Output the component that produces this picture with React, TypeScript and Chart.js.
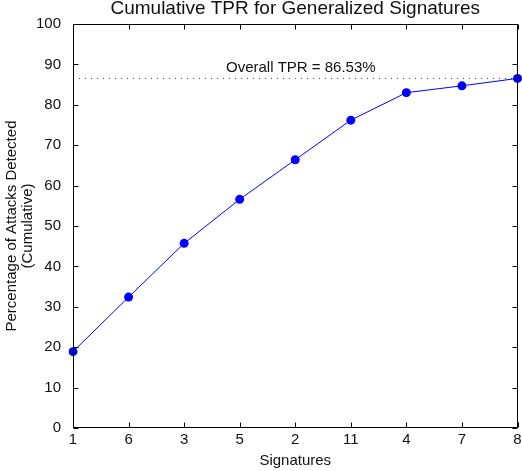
import React, { useEffect, useRef } from "react";
import { Chart, registerables } from "chart.js";

Chart.register(...registerables);

const signatures = ["1", "6", "3", "5", "2", "11", "4", "7", "8"];
const cumulativeTPR = [18.9, 32.4, 45.7, 56.6, 66.4, 76.2, 83.0, 84.7, 86.53];
const overallTPR = 86.53;
const overallLine = signatures.map(() => overallTPR);
const yTicks = [0, 10, 20, 30, 40, 50, 60, 70, 80, 90, 100];
const annotationText = "Overall TPR = 86.53%";
const annotationIndex = 4.1;

const FONT = "'Liberation Sans', Arial, Helvetica, sans-serif";

const boxPlugin = {
  id: "matlabBox",
  afterDatasetsDraw(chart: any) {
    const { ctx, chartArea, scales } = chart;
    const { left, right, top, bottom } = chartArea;
    const tl = 5;
    ctx.save();
    ctx.strokeStyle = "#000";
    ctx.lineWidth = 1;
    ctx.beginPath();
    const L = Math.round(left) + 0.5;
    const R = Math.round(right) - 0.5;
    const T = Math.round(top) + 0.5;
    const B = Math.round(bottom) - 0.5;
    ctx.rect(L, T, R - L, B - T);
    const xs = scales.x;
    for (let i = 0; i < xs.ticks.length; i++) {
      const px = Math.round(xs.getPixelForTick(i)) + 0.5;
      ctx.moveTo(px, B);
      ctx.lineTo(px, B - tl);
      ctx.moveTo(px, T);
      ctx.lineTo(px, T + tl);
    }
    const ys = scales.y;
    for (let i = 0; i < ys.ticks.length; i++) {
      const py = Math.round(ys.getPixelForTick(i)) + 0.5;
      ctx.moveTo(L, py);
      ctx.lineTo(L + tl, py);
      ctx.moveTo(R, py);
      ctx.lineTo(R - tl, py);
    }
    ctx.stroke();
    // annotation
    ctx.fillStyle = "#111";
    ctx.font = `15px ${FONT}`;
    ctx.textAlign = "center";
    ctx.textBaseline = "alphabetic";
    ctx.fillText(
      annotationText,
      xs.getPixelForValue(annotationIndex),
      ys.getPixelForValue(overallTPR) - 6
    );
    ctx.restore();
  },
};

export default function App() {
  const ref = useRef<HTMLCanvasElement>(null);
  useEffect(() => {
    if (!ref.current) return;
    Chart.defaults.font.family = FONT;
    Chart.defaults.color = "#111";
    const chart = new Chart(ref.current, {
      type: "line",
      data: {
        labels: signatures,
        datasets: [
          {
            label: "Cumulative TPR",
            data: cumulativeTPR,
            borderColor: "#0000ff",
            backgroundColor: "#0000ff",
            borderWidth: 1,
            pointRadius: 4.5,
            pointBorderWidth: 0,
            pointBackgroundColor: "#0000ff",
            tension: 0,
            order: 1,
          },
          {
            label: "Overall",
            data: overallLine,
            borderColor: "#444",
            borderWidth: 1,
            borderDash: [1, 5],
            pointRadius: 0,
            fill: false,
            order: 2,
          },
        ],
      },
      options: {
        responsive: false,
        animation: false,
        events: [],
        layout: { padding: { left: 0, right: 3, top: 0, bottom: 0 } },
        plugins: {
          legend: { display: false },
          tooltip: { enabled: false },
          title: {
            display: true,
            fullSize: false,
            text: "Cumulative TPR for Generalized Signatures",
            font: { size: 19, weight: "normal", family: FONT, lineHeight: 1.2 },
            color: "#111",
            padding: { top: -2.5, bottom: 3.7 },
          },
        },
        scales: {
          x: {
            type: "category",
            offset: false,
            grid: { display: false },
            border: { display: false },
            ticks: {
              font: { size: 15, family: FONT },
              color: "#111",
              padding: -5,
              maxRotation: 0,
              autoSkip: false,
            },
            title: {
              display: true,
              text: "Signatures",
              font: { size: 15, family: FONT, lineHeight: 1.2 },
              color: "#111",
              padding: { top: 0, bottom: 1 },
            },
            afterFit(scale: any) {
              scale.height = 43;
              scale.paddingLeft = 0;
              scale.paddingRight = 0;
            },
          },
          y: {
            min: 0,
            max: 100,
            grid: { display: false },
            border: { display: false },
            afterBuildTicks(scale: any) {
              scale.ticks = yTicks.map((v) => ({ value: v }));
            },
            ticks: {
              font: { size: 15, family: FONT },
              color: "#111",
              padding: 4,
            },
            title: {
              display: true,
              text: ["Percentage of Attacks Detected", "(Cumulative)"],
              font: { size: 15, family: FONT, lineHeight: 1.1 },
              color: "#111",
              padding: { top: 3.25, bottom: 0 },
            },
            afterFit(scale: any) {
              scale.width = 73;
            },
          },
        },
      },
      plugins: [boxPlugin],
    } as any);
    return () => chart.destroy();
  }, []);
  return (
    <canvas
      ref={ref}
      width={522}
      height={471}
      style={{ position: "fixed", left: 0, top: 0, display: "block" }}
    />
  );
}
